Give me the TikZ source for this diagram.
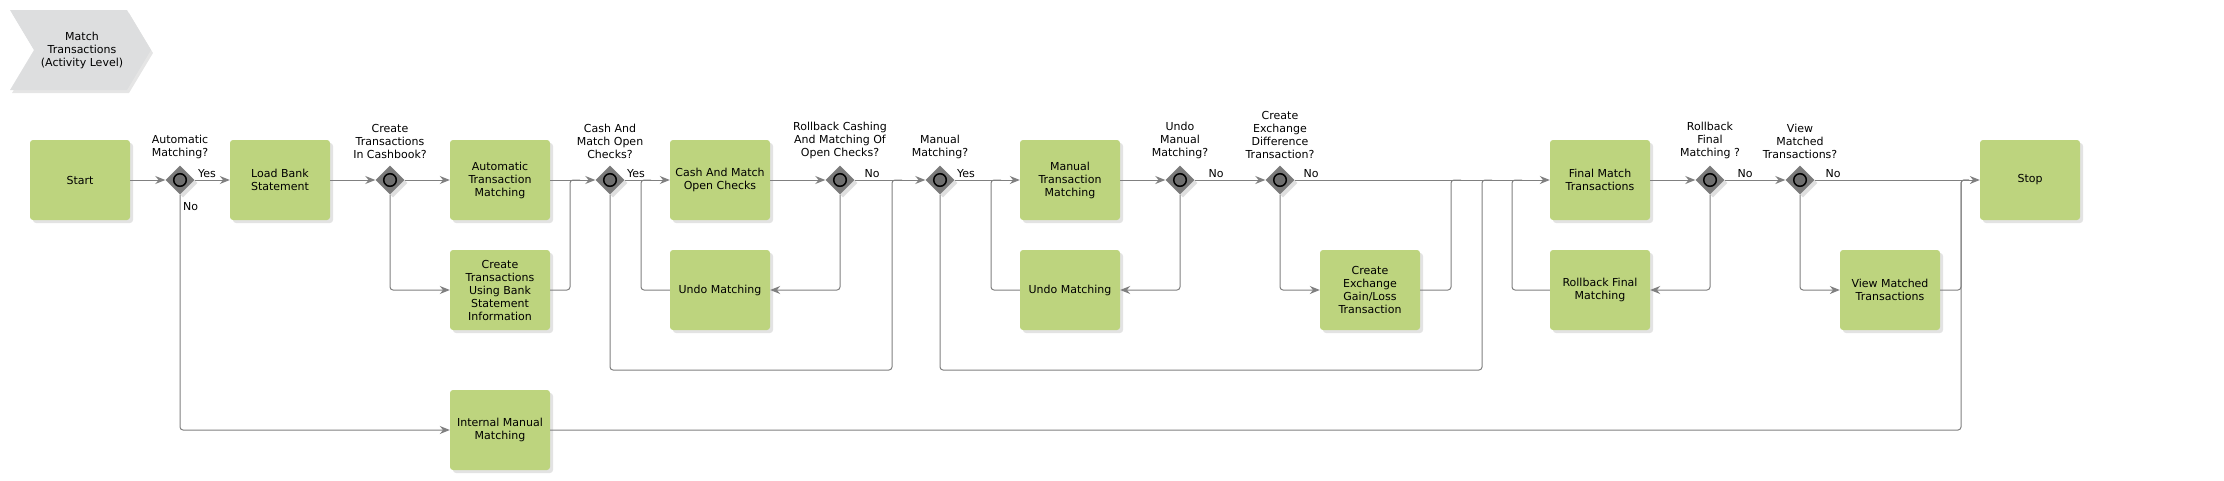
\documentclass[tikz,border=0pt]{standalone}
\usepackage{fontspec}
\setmainfont{DejaVu Sans}
\usetikzlibrary{shapes.geometric,shadows,arrows.meta}

\definecolor{taskgreen}{RGB}{189,212,126}
\definecolor{flowgray}{RGB}{128,128,128}
\definecolor{gategray}{RGB}{122,122,122}
\definecolor{titlegray}{RGB}{221,222,223}

\tikzset{
  task/.style={fill=taskgreen, rounded corners=3pt, minimum width=100pt,
    minimum height=80pt, align=center, inner sep=2pt,
    drop shadow={shadow xshift=3pt, shadow yshift=-3pt, fill=black!22}},
  gate/.style={diamond, fill=gategray, minimum width=29pt, minimum height=29pt,
    inner sep=0pt,
    drop shadow={shadow xshift=3pt, shadow yshift=-3pt, fill=black!25},
    path picture={\draw[line width=1.5pt, fill=gategray!90!black]
      (path picture bounding box.center) circle (6.3pt);}},
  ask/.style={align=center, anchor=south, inner sep=0pt},
  tag/.style={inner sep=0pt, anchor=base},
  flow/.style={draw=flowgray, line width=1pt, -{Stealth[length=10pt,width=8pt]}},
  mergeline/.style={draw=flowgray, line width=1pt, rounded corners=3pt}
}

\begin{document}
\begin{tikzpicture}[x=1pt, y=-1pt, font=\fontsize{11}{13}\selectfont]
  \useasboundingbox (0,0) rectangle (2224,480);

  % title
  \fill[titlegray, drop shadow={shadow xshift=2pt, shadow yshift=-3pt, fill=black!20}]
    (10,10) -- (127,10) -- (151,50) -- (127,90) -- (10,90) -- (34,50) -- cycle;
  \node[align=center] (title) at (82,50) {Match\\Transactions\\(Activity Level)};

  % tasks and gates
  \node[task] (start)    at (80,180)   {Start};
  \node[gate] (dA)       at (180,180)  {};
  \node[task] (load)     at (280,180)  {Load Bank\\Statement};
  \node[gate] (dB)       at (390,180)  {};
  \node[task] (autom)    at (500,180)  {Automatic\\Transaction\\Matching};
  \node[task] (bankinfo) at (500,290)  {Create\\Transactions\\Using Bank\\Statement\\Information};
  \node[task] (internal) at (500,430)  {Internal Manual\\Matching};
  \node[gate] (dC)       at (610,180)  {};
  \node[task] (cash)     at (720,180)  {Cash And Match\\Open Checks};
  \node[task] (undoA)    at (720,290)  {Undo Matching};
  \node[gate] (dD)       at (840,180)  {};
  \node[gate] (dE)       at (940,180)  {};
  \node[task] (manual)   at (1070,180) {Manual\\Transaction\\Matching};
  \node[task] (undoB)    at (1070,290) {Undo Matching};
  \node[gate] (dF)       at (1180,180) {};
  \node[gate] (dG)       at (1280,180) {};
  \node[task] (exch)     at (1370,290) {Create\\Exchange\\Gain/Loss\\Transaction};
  \node[task] (final)    at (1600,180) {Final Match\\Transactions};
  \node[task] (rollback) at (1600,290) {Rollback Final\\Matching};
  \node[gate] (dH)       at (1710,180) {};
  \node[gate] (dI)       at (1800,180) {};
  \node[task] (view)     at (1890,290) {View Matched\\Transactions};
  \node[task] (stop)     at (2030,180) {Stop};

  % questions
  \node[ask] (qA) at (180,159)  {Automatic\\Matching?};
  \node[ask] (qB) at (390,159)  {Create\\Transactions\\In Cashbook?};
  \node[ask] (qC) at (610,159)  {Cash And\\Match Open\\Checks?};
  \node[ask] (qD) at (840,159)  {Rollback Cashing\\And Matching Of\\Open Checks?};
  \node[ask] (qE) at (940,159)  {Manual\\Matching?};
  \node[ask] (qF) at (1180,159) {Undo\\Manual\\Matching?};
  \node[ask] (qG) at (1280,159) {Create\\Exchange\\Difference\\Transaction?};
  \node[ask] (qH) at (1710,159) {Rollback\\Final\\Matching ?};
  \node[ask] (qI) at (1800,159) {View\\Matched\\Transactions?};

  % answers
  \node[tag] (yA) at (207,177)  {Yes};
  \node[tag, anchor=base west] (nA) at (183,210) {No};
  \node[tag] (yC) at (636,177)  {Yes};
  \node[tag] (nD) at (872,177)  {No};
  \node[tag] (yE) at (966,177)  {Yes};
  \node[tag] (nF) at (1216,177) {No};
  \node[tag] (nG) at (1311,177) {No};
  \node[tag] (nH) at (1745,177) {No};
  \node[tag] (nI) at (1833,177) {No};

  % merge points
  \coordinate (mC) at (570,180);
  \coordinate (mD) at (641,180);
  \coordinate (mE) at (892,180);
  \coordinate (mF) at (991,180);
  \coordinate (mH) at (1451,180);
  \coordinate (mG) at (1482,180);
  \coordinate (mI) at (1512,180);
  \coordinate (mJ) at (1961,180);

  % flows
  \draw[flow] (start) -- (dA);
  \draw[flow] (dA) -- (load);
  \draw[flow, rounded corners=3pt] (dA) |- (internal);
  \draw[flow] (load) -- (dB);
  \draw[flow] (dB) -- (autom);
  \draw[flow, rounded corners=3pt] (dB) |- (bankinfo);
  \draw[flow] (autom) -- (dC);
  \draw[mergeline] (bankinfo) -| (mC) -- ++(10,0);
  \draw[flow] (dC) -- (cash);
  \draw[mergeline] (undoA) -| (mD) -- ++(10,0);
  \draw[mergeline] (dC) |- (892,370) -- (mE) -- ++(10,0);
  \draw[flow] (cash) -- (dD);
  \draw[flow] (dD) -- (dE);
  \draw[flow, rounded corners=3pt] (dD) |- (undoA);
  \draw[flow] (dE) -- (manual);
  \draw[mergeline] (undoB) -| (mF) -- ++(10,0);
  \draw[mergeline] (dE) |- (1482,370) -- (mG) -- ++(10,0);
  \draw[flow] (manual) -- (dF);
  \draw[flow] (dF) -- (dG);
  \draw[flow, rounded corners=3pt] (dF) |- (undoB);
  \draw[flow] (dG) -- (final);
  \draw[flow, rounded corners=3pt] (dG) |- (exch);
  \draw[mergeline] (exch) -| (mH) -- ++(10,0);
  \draw[mergeline] (rollback) -| (mI) -- ++(10,0);
  \draw[flow] (final) -- (dH);
  \draw[flow] (dH) -- (dI);
  \draw[flow, rounded corners=3pt] (dH) |- (rollback);
  \draw[flow] (dI) -- (stop);
  \draw[flow, rounded corners=3pt] (dI) |- (view);
  \draw[mergeline] (view) -| (mJ) -- ++(8,0);
  \draw[mergeline] (internal) -| (mJ) -- ++(8,0);
\end{tikzpicture}
\end{document}
